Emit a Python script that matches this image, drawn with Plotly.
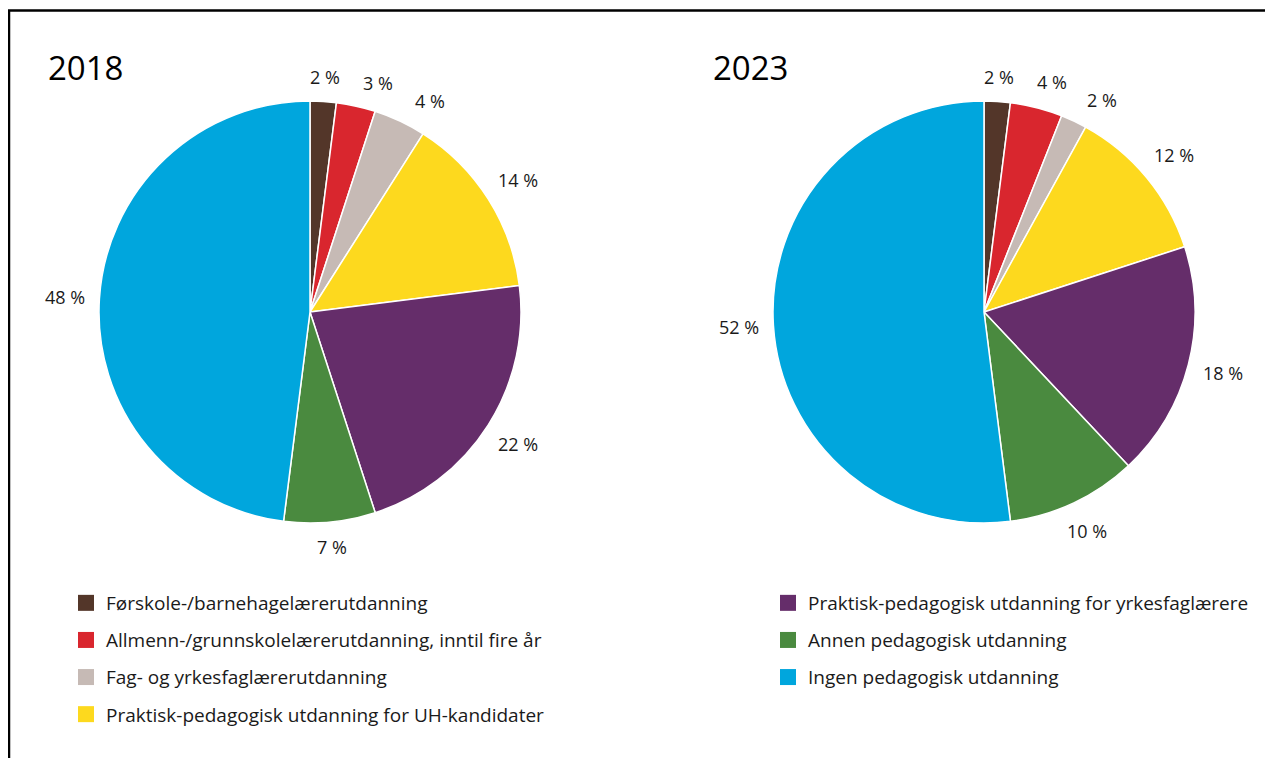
import math
import plotly.graph_objects as go

categories = [
    "Førskole-/barnehagelærerutdanning",
    "Allmenn-/grunnskolelærerutdanning, inntil fire år",
    "Fag- og yrkesfaglærerutdanning",
    "Praktisk-pedagogisk utdanning for UH-kandidater",
    "Praktisk-pedagogisk utdanning for yrkesfaglærere",
    "Annen pedagogisk utdanning",
    "Ingen pedagogisk utdanning",
]
values_2018 = [2, 3, 4, 14, 22, 7, 48]
values_2023 = [2, 4, 2, 12, 18, 10, 52]
colors = ["#533629", "#d9262e", "#c6bab5", "#fdd91e", "#652d6a", "#4a8a3f", "#00a6dd"]
years = ["2018", "2023"]

W, H = 1273, 758
OFF = 8  # page offset of the figure in the browser
FONT = "Open Sans"
TXT = "#1a1a1a"


def fx(X):
    return (X - OFF) / W


def fy(Y):
    return (H - (Y - OFF)) / H


fig = go.Figure()

R = 211
MIN_SEP = 53  # minimum distance between neighbouring label centres


def label_xy(cx, cy, ang):
    s, c = math.sin(ang), math.cos(ang)
    d = R + 14 + 20 * abs(s) + 9 * abs(c)
    return cx + d * s, cy - d * c


annotations = []
for vals, cx, year, tx in [(values_2018, 310, years[0], 46), (values_2023, 984, years[1], 711)]:
    cy = 312
    fig.add_trace(go.Pie(
        labels=categories,
        values=vals,
        textinfo="none",
        sort=False,
        direction="clockwise",
        rotation=0,
        marker=dict(colors=colors, line=dict(color="white", width=1.5)),
        showlegend=False,
        hoverinfo="label+value",
        domain=dict(x=[fx(cx - R), fx(cx + R)], y=[fy(cy + R), fy(cy - R)]),
    ))
    # outside labels along each slice's mid angle, pushed clockwise if crowded
    total = sum(vals)
    cum = 0
    prev = None
    for v in vals:
        ang = (cum + v / 2) / total * 2 * math.pi
        cum += v
        x, y = label_xy(cx, cy, ang)
        if prev is not None:
            while math.hypot(x - prev[0], y - prev[1]) < MIN_SEP:
                ang += math.radians(0.5)
                x, y = label_xy(cx, cy, ang)
        prev = (x, y)
        annotations.append(dict(
            text=f"{v} %", x=fx(x), y=fy(y),
            xref="paper", yref="paper", xanchor="center", yanchor="middle",
            showarrow=False, font=dict(family=FONT, size=18, color=TXT),
        ))
    annotations.append(dict(
        text=year, x=fx(tx), y=fy(67), xref="paper", yref="paper",
        xanchor="left", yanchor="middle", showarrow=False,
        font=dict(family=FONT, size=33, color="black"),
    ))

for i, (cat, col) in enumerate(zip(categories, colors)):
    fig.add_trace(go.Scatter(
        x=[None], y=[None], mode="markers",
        marker=dict(symbol="square", size=16, color=col),
        name=cat,
        legend="legend" if i < 4 else "legend2",
        legendgroup=f"g{i}",
    ))

leg_common = dict(
    font=dict(family=FONT, size=19, color=TXT),
    tracegroupgap=9.4,
    bgcolor="rgba(0,0,0,0)",
    xanchor="left", yanchor="top",
    itemwidth=30,
)

fig.update_layout(
    width=W, height=H,
    margin=dict(l=0, r=0, t=0, b=0),
    paper_bgcolor="white",
    plot_bgcolor="white",
    xaxis=dict(visible=False),
    yaxis=dict(visible=False),
    legend=dict(x=fx(66), y=fy(584), **leg_common),
    legend2=dict(x=fx(768), y=fy(584), **leg_common),
    annotations=annotations,
    shapes=[
        dict(type="rect", xref="paper", yref="paper",
             x0=fx(9), x1=1.02, y0=-0.02, y1=fy(10.5),
             line=dict(color="black", width=2.5), fillcolor="rgba(0,0,0,0)"),
    ],
)

fig.write_html("out.html")
